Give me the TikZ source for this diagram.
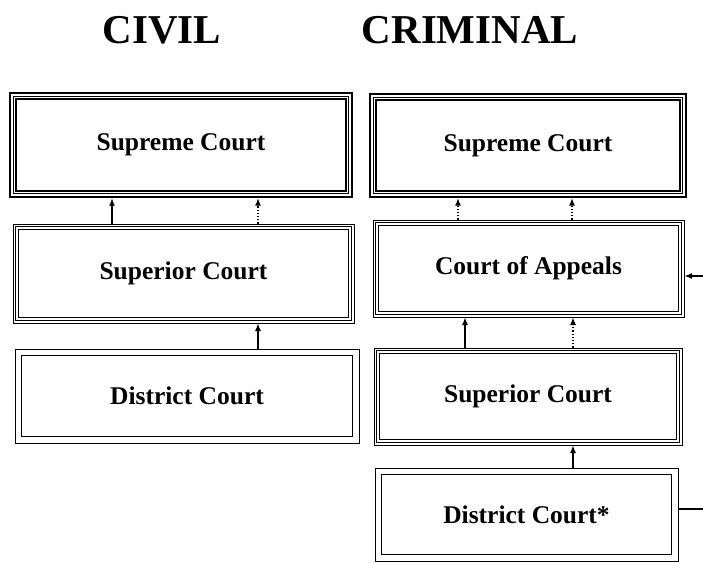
\documentclass[tikz,border=0pt]{standalone}
\usepackage{fontspec}
\setmainfont{Liberation Serif}
\usetikzlibrary{arrows.meta}
\newcommand\courtfont{\fontsize{25.5}{30}\selectfont\bfseries}
\newcommand\headfont{\fontsize{41}{46}\selectfont\bfseries}
\newcommand\innerframe[2]{\draw[line width=#2]
  ([shift={(#1,-#1)}]path picture bounding box.north west) rectangle
  ([shift={(-#1,#1)}]path picture bounding box.south east);}
\tikzset{
  >={Latex[length=7.5pt,width=6pt]},
  court/.style={draw, rectangle, inner sep=0pt, font=\courtfont},
  supreme/.style={court, line width=2.4pt,
    path picture={\innerframe{3.3pt}{.9pt}\innerframe{6pt}{1.7pt}}},
  superior/.style={court, line width=1pt,
    path picture={\innerframe{2.8pt}{1pt}\innerframe{5.5pt}{1pt}}},
  district/.style={court, line width=1pt,
    path picture={\innerframe{6.5pt}{1pt}}},
  appeal/.style={->, line width=1.2pt},
  maybe/.style={->, line width=1.2pt, dotted},
}
\begin{document}
\begin{tikzpicture}[x=1pt,y=-1pt]
        \useasboundingbox (0,0) rectangle (703,562);
        % headings
        \node[font=\headfont, anchor=base] (civil) at (162,43) {CIVIL};
        \node[font=\headfont, anchor=base] (criminal) at (470,43) {CRIMINAL};
        % civil side
        \node[supreme, minimum width=342pt, minimum height=104pt] (civsup) at (181,145) {Supreme Court};
        \node[superior, minimum width=341pt, minimum height=99pt] (civsupr) at (183.5,273.5) {Superior Court};
        \node[district, minimum width=344pt, minimum height=94pt] (civdist) at (187,396) {District Court};
        \draw[appeal] ([xshift=-71.5pt]civsupr.north) -- ([xshift=-69pt]civsup.south);
        \draw[maybe] ([xshift=74.5pt]civsupr.north) -- ([xshift=77pt]civsup.south);
        \draw[appeal] ([xshift=71pt]civdist.north) -- ([xshift=74.5pt]civsupr.south);
        % criminal side
        \node[supreme, minimum width=316pt, minimum height=103pt] (crimsup) at (528,145.5) {Supreme Court};
        \node[superior, minimum width=311pt, minimum height=97pt] (crimapp) at (528.5,268.5) {Court of Appeals};
        \node[superior, minimum width=308pt, minimum height=97pt] (crimsupr) at (528,396.5) {Superior Court};
        \node[district, minimum width=303pt, minimum height=93pt] (crimdist) at (526.5,514.5) {District Court*};
        \draw[maybe] ([xshift=-70.5pt]crimapp.north) -- ([xshift=-70pt]crimsup.south);
        \draw[maybe] ([xshift=43.5pt]crimapp.north) -- ([xshift=44pt]crimsup.south);
        \draw[appeal] ([xshift=-63pt]crimsupr.north) -- ([xshift=-63.5pt]crimapp.south);
        \draw[maybe] ([xshift=45pt]crimsupr.north) -- ([xshift=44.5pt]crimapp.south);
        \draw[appeal] ([xshift=46.5pt]crimdist.north) -- ([xshift=45pt]crimsupr.south);
        % from the right edge
        \coordinate (intoapp) at (703,276);
        \coordinate (outdist) at (703,509);
        \draw[appeal] (intoapp) -- (intoapp -| crimapp.east);
        \draw[line width=1.2pt] (crimdist.east |- outdist) -- (outdist);
\end{tikzpicture}
\end{document}
